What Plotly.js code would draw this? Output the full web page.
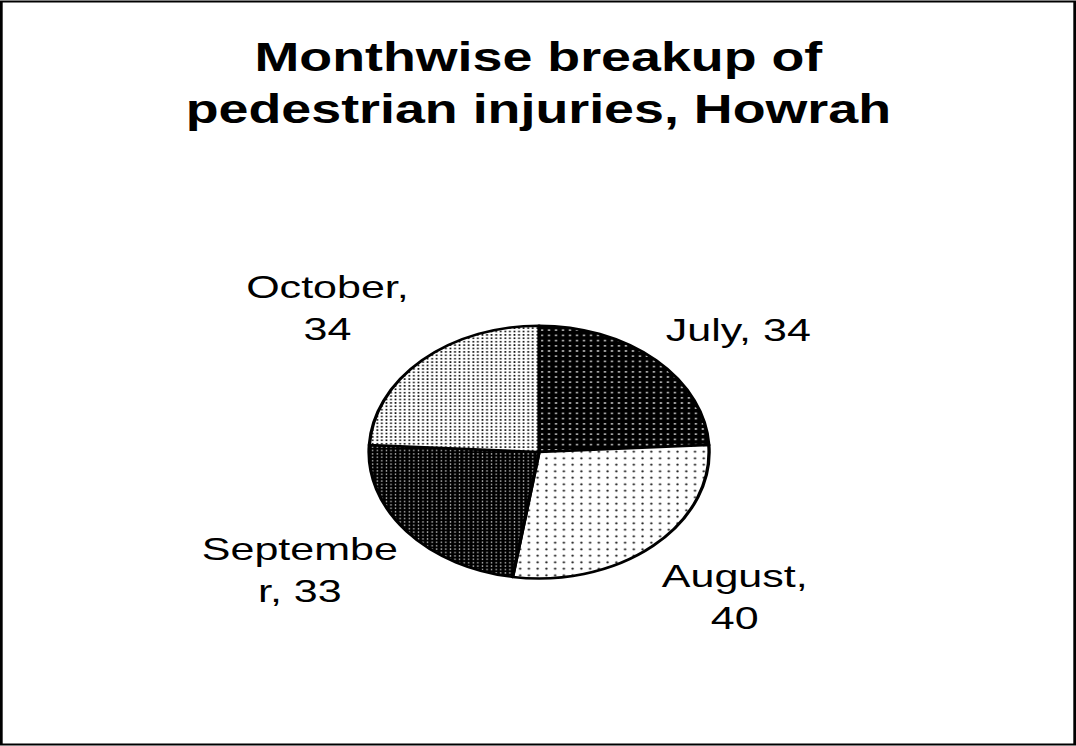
<!DOCTYPE html>
<html><head><meta charset="utf-8">
<script src="https://cdn.plot.ly/plotly-3.0.1.min.js"></script>
<style>
html,body{margin:0;padding:0;background:#fff;overflow:hidden;}
#wrap{width:1076px;height:746px;overflow:hidden;position:relative;}
#chart{width:800px;height:746px;transform:scaleX(1.345);transform-origin:0 0;}
</style></head><body><div id="wrap"><div id="chart"></div></div>
<script>
// Data
const months = ['July', 'August', 'September', 'October'];
const injuries = [34, 40, 33, 34];
// Label text as wrapped in the original
const labelTexts = ['July, 34', 'August,<br>40', 'Septembe<br>r, 33', 'October,<br>34'];
const chartTitle = 'Monthwise breakup of<br>pedestrian injuries, Howrah';

const trace = {
  type: 'pie',
  labels: months,
  values: injuries,
  sort: false,
  direction: 'clockwise',
  rotation: 0,
  textinfo: 'none',
  hoverinfo: 'label+value',
  showlegend: false,
  domain: {x: [0.343, 0.659], y: [0.2245, 0.5636]},
  marker: {
    colors: ['#000000', '#ffffff', '#000000', '#ffffff'],
    line: {color: '#000000', width: 2.5},
    pattern: {
      shape: ['.', '.', '.', '.'],
      bgcolor: ['#000000', '#ffffff', '#000000', '#ffffff'],
      fgcolor: ['#ffffff', '#000000', '#ffffff', '#000000'],
      size: [5.2, 6.5, 3.4, 3.4],
      solidity: [0.07, 0.06, 0.1, 0.18],
      fillmode: 'replace'
    }
  }
};

const labelPos = [
  {x: 0.686, y: 0.558},
  {x: 0.683, y: 0.200},
  {x: 0.279, y: 0.236},
  {x: 0.304, y: 0.587}
];

const font = {family: 'Liberation Sans, Arial, sans-serif', size: 32, color: '#000'};
const annotations = labelTexts.map((t, i) => ({
  text: t, xref: 'paper', yref: 'paper', x: labelPos[i].x, y: labelPos[i].y,
  xanchor: 'center', yanchor: 'middle', showarrow: false, align: 'center', font: font
}));
annotations.push({
  text: chartTitle, xref: 'paper', yref: 'paper', x: 0.5, y: 1 - 83 / 746,
  xanchor: 'center', yanchor: 'middle', showarrow: false, align: 'center',
  font: {family: 'Liberation Sans, Arial, sans-serif', size: 40, weight: 'bold', color: '#000'}
});

const layout = {
  width: 800, height: 746,
  margin: {l: 0, r: 0, t: 0, b: 0},
  paper_bgcolor: '#ffffff',
  annotations: annotations,
  shapes: [{
    type: 'rect', xref: 'paper', yref: 'paper',
    x0: 1 / 800, x1: 1 - 1 / 800, y0: 1.5 / 746, y1: 1 - 1.5 / 746,
    line: {color: '#000', width: 2}
  }]
};

Plotly.newPlot('chart', [trace], layout, {displayModeBar: false, staticPlot: true});
</script></body></html>
